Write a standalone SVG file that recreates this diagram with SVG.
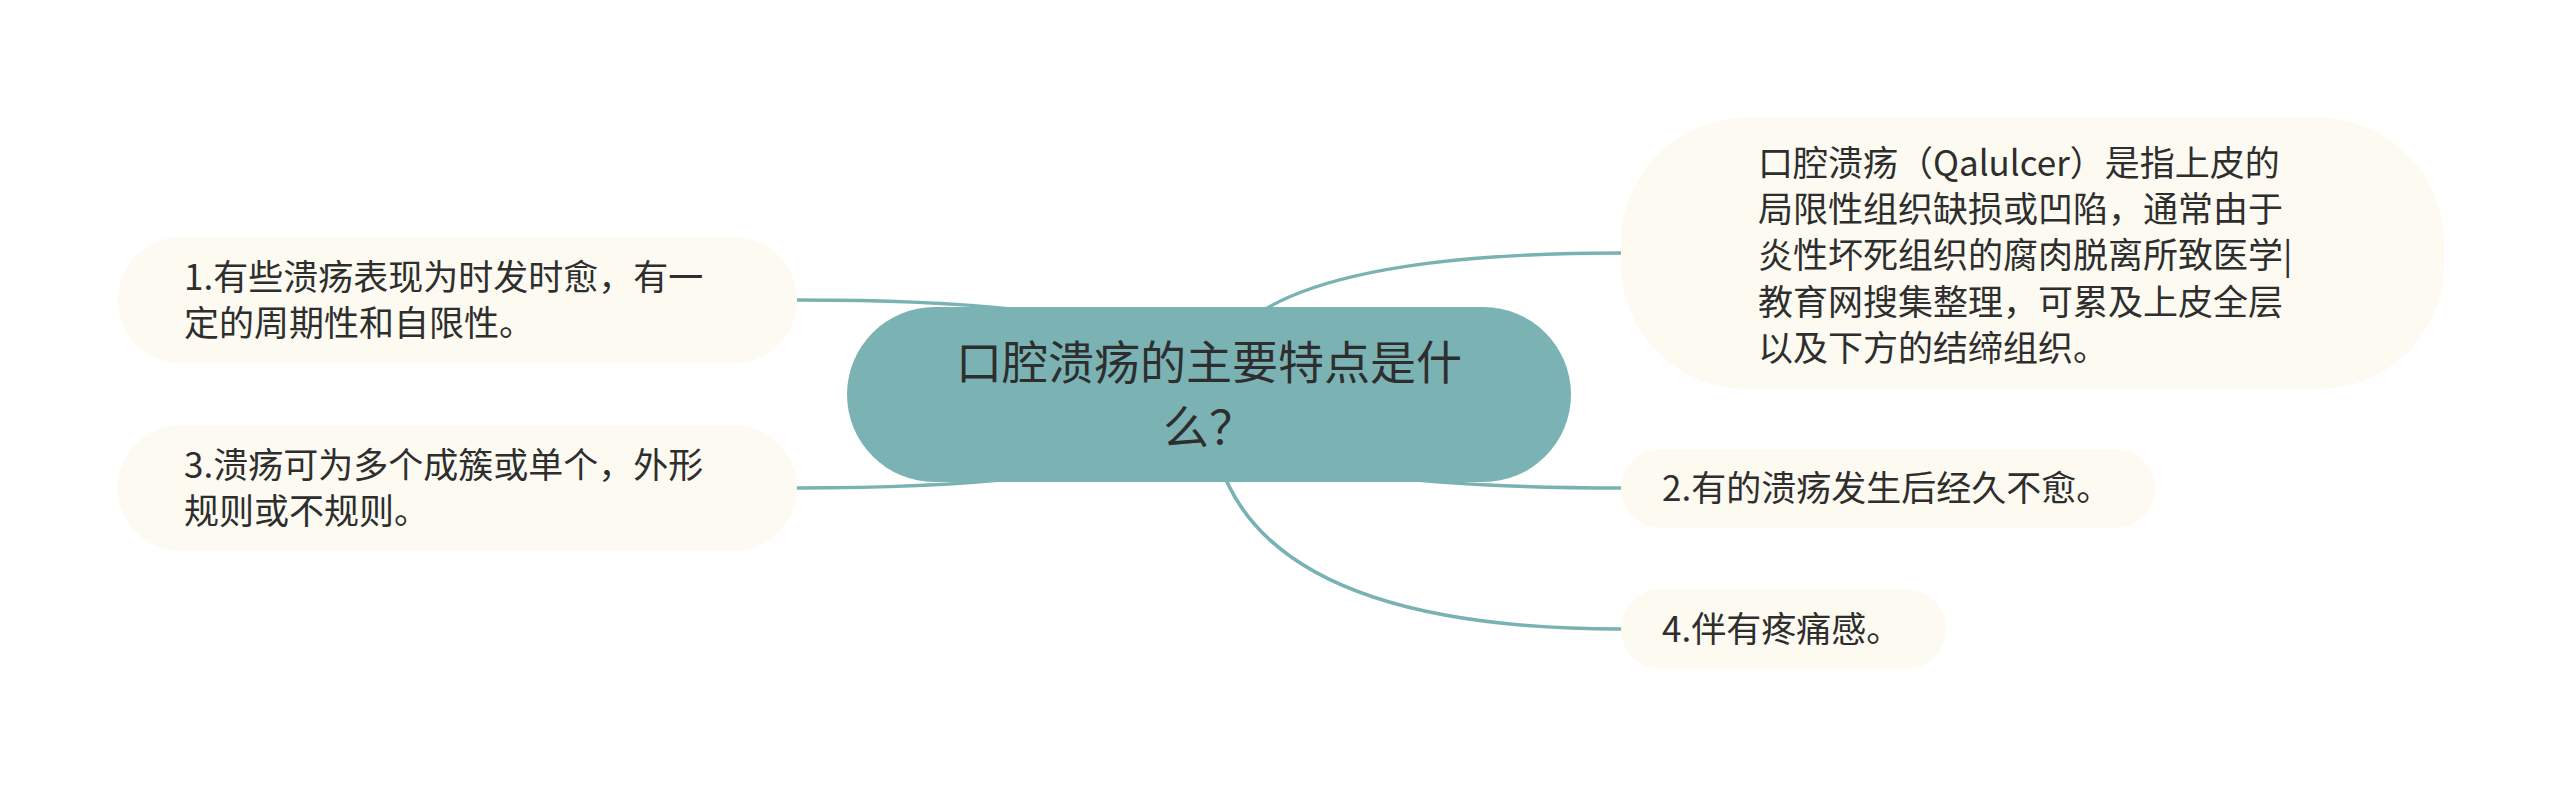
<svg xmlns="http://www.w3.org/2000/svg" width="2560" height="789" viewBox="0 0 2560 789">
  <style>
    .conn { fill: none; stroke: #79b2b3; stroke-width: 3.5; stroke-linecap: round; }
    .root { fill: #7bb3b4; }
    .child { fill: #fcfaf1; }
    .t { font-family: "Noto Sans CJK SC", "Noto Sans", sans-serif; fill: #2e2e2e; }
    .rt { font-size: 46px; text-anchor: middle; }
    .ct { font-size: 35px; }
  </style>
  <rect width="2560" height="789" fill="#ffffff"/>
  <g id="connectors">
    <path class="conn" d="M1209 394 Q1209 300 797 300"/>
    <path class="conn" d="M1209 394 Q1209 488 797 488"/>
    <path class="conn" d="M1209 394 Q1209 253 1621 253"/>
    <path class="conn" d="M1209 394 Q1209 488 1621 488"/>
    <path class="conn" d="M1209 394 Q1209 629 1621 629"/>
  </g>
  <g id="root">
    <rect class="root" x="847" y="307" width="724" height="175" rx="87.5" ry="87.5"/>
    <text class="t rt" x="1209" y="379">口腔溃疡的主要特点是什</text>
    <text class="t rt" x="1209" y="444">么？</text>
  </g>
  <g id="node-def">
    <rect class="child" x="1621" y="118" width="823" height="271" rx="125" ry="125"/>
    <text class="t ct" x="1758" y="176">口腔溃疡（Qalulcer）是指上皮的</text>
    <text class="t ct" x="1758" y="222">局限性组织缺损或凹陷，通常由于</text>
    <text class="t ct" x="1758" y="268">炎性坏死组织的腐肉脱离所致医学|</text>
    <text class="t ct" x="1758" y="315">教育网搜集整理，可累及上皮全层</text>
    <text class="t ct" x="1758" y="361">以及下方的结缔组织。</text>
  </g>
  <g id="node-1">
    <rect class="child" x="118" y="237" width="679" height="126" rx="63" ry="63"/>
    <text class="t ct" x="184" y="290">1.有些溃疡表现为时发时愈，有一</text>
    <text class="t ct" x="184" y="336">定的周期性和自限性。</text>
  </g>
  <g id="node-3">
    <rect class="child" x="118" y="425" width="679" height="126" rx="63" ry="63"/>
    <text class="t ct" x="184" y="478">3.溃疡可为多个成簇或单个，外形</text>
    <text class="t ct" x="184" y="524">规则或不规则。</text>
  </g>
  <g id="node-2">
    <rect class="child" x="1621" y="449" width="534" height="79" rx="39.5" ry="39.5"/>
    <text class="t ct" x="1662" y="501">2.有的溃疡发生后经久不愈。</text>
  </g>
  <g id="node-4">
    <rect class="child" x="1621" y="589" width="325" height="80" rx="40" ry="40"/>
    <text class="t ct" x="1662" y="642">4.伴有疼痛感。</text>
  </g>
</svg>
